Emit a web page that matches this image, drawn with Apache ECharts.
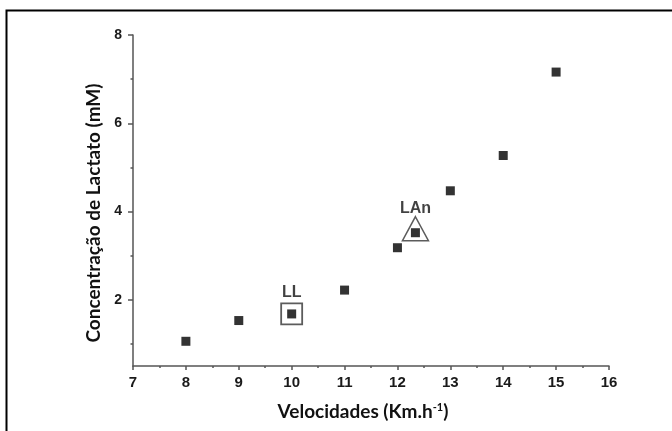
<!DOCTYPE html>
<html>
<head>
<meta charset="utf-8">
<script src="https://cdn.jsdelivr.net/npm/echarts@6/dist/echarts.min.js"></script>
</head>
<body style="margin:0;background:#fff">
<div id="main" style="width:672px;height:431px;"></div>
<script>
// velocidade (km/h) x concentração de lactato (mM)
var velocidades = [8, 9, 10, 11, 12, 12.34, 13, 14, 15];
var lactato = [1.06, 1.53, 1.68, 2.22, 3.18, 3.52, 4.47, 5.27, 7.16];
var yTicks = [2, 4, 6, 8];
var yMinorTicks = [1, 3, 5, 7];
// pontos marcados: limiar de lactato e limiar anaeróbio
var idxLL = 2;
var idxLAn = 5;

var pontos = velocidades.map(function (v, i) { return [v, lactato[i]]; });

var axisColor = '#555';
var labelFont = { color: '#1a1a1a', fontFamily: 'Liberation Sans', fontWeight: 'bold' };
var titleFont = { fontFamily: 'Lato', fontWeight: 'bold', color: '#111' };

var myChart = echarts.init(document.getElementById('main'));
myChart.setOption({
    animation: false,
    backgroundColor: '#fff',
    grid: { left: 133, right: 63, top: 35, bottom: 65 },
    xAxis: {
        type: 'value',
        min: 7, max: 16, interval: 1,
        name: '{t|Velocidades (Km.h}{s|-1}{t|)}',
        nameLocation: 'middle',
        nameGap: 36,
        nameTextStyle: {
            padding: [0, 16, 0, 0],
            rich: {
                t: Object.assign({ fontSize: 19 }, titleFont),
                s: Object.assign({ fontSize: 11, verticalAlign: 'top', padding: [0, 0, 8, 0] }, titleFont)
            }
        },
        axisLine: { lineStyle: { color: axisColor, width: 1.5 } },
        axisTick: { length: 4, lineStyle: { color: axisColor, width: 1.5 } },
        minorTick: { show: true, splitNumber: 2, length: 2, lineStyle: { color: axisColor, width: 1.5 } },
        axisLabel: Object.assign({ fontSize: 15, margin: 9 }, labelFont),
        splitLine: { show: false }
    },
    yAxis: [
        {
            type: 'value',
            min: 0.5, max: 8,
            name: 'Concentração de Lactato (mM)',
            nameLocation: 'middle',
            nameGap: 30,
            nameTextStyle: Object.assign({ fontSize: 19, padding: [0, 25, 0, 0] }, titleFont),
            axisLine: { lineStyle: { color: axisColor, width: 1.5 } },
            axisTick: { customValues: yTicks, length: 5, lineStyle: { color: axisColor, width: 1.5 } },
            axisLabel: Object.assign({ customValues: yTicks, fontSize: 14, margin: 11 }, labelFont),
            splitLine: { show: false }
        },
        {
            type: 'value',
            position: 'left',
            min: 0.5, max: 8,
            axisLine: { show: false },
            axisTick: { customValues: yMinorTicks, length: 2.5, lineStyle: { color: axisColor, width: 1.5 } },
            axisLabel: { show: false },
            splitLine: { show: false }
        }
    ],
    graphic: [{
        type: 'polyline',
        shape: { points: [[6.5, 431], [6.5, 10.5], [672, 10.5]] },
        style: { stroke: '#000', lineWidth: 2, fill: null }
    }],
    series: [
        {
            name: 'LL',
            type: 'scatter',
            data: [pontos[idxLL]],
            symbol: 'rect',
            symbolSize: 21,
            itemStyle: { color: 'rgba(0,0,0,0)', borderColor: '#333', borderWidth: 1.8 },
            label: { show: true, position: 'top', distance: 2, formatter: 'LL', fontSize: 16, color: '#111', fontFamily: 'Liberation Sans', fontWeight: 'bold' },
            z: 1
        },
        {
            name: 'LAn',
            type: 'scatter',
            data: [pontos[idxLAn]],
            symbol: 'triangle',
            symbolSize: [26, 24],
            symbolOffset: [0, -4],
            itemStyle: { color: 'rgba(0,0,0,0)', borderColor: '#333', borderWidth: 1.5 },
            label: { show: true, position: 'top', distance: -1, formatter: 'LAn', fontSize: 16, color: '#111', fontFamily: 'Liberation Sans', fontWeight: 'bold' },
            z: 1
        },
        {
            name: 'Lactato',
            type: 'scatter',
            data: pontos,
            symbol: 'rect',
            symbolSize: 9,
            itemStyle: { color: '#000' },
            z: 2
        }
    ]
});
</script>
</body>
</html>
